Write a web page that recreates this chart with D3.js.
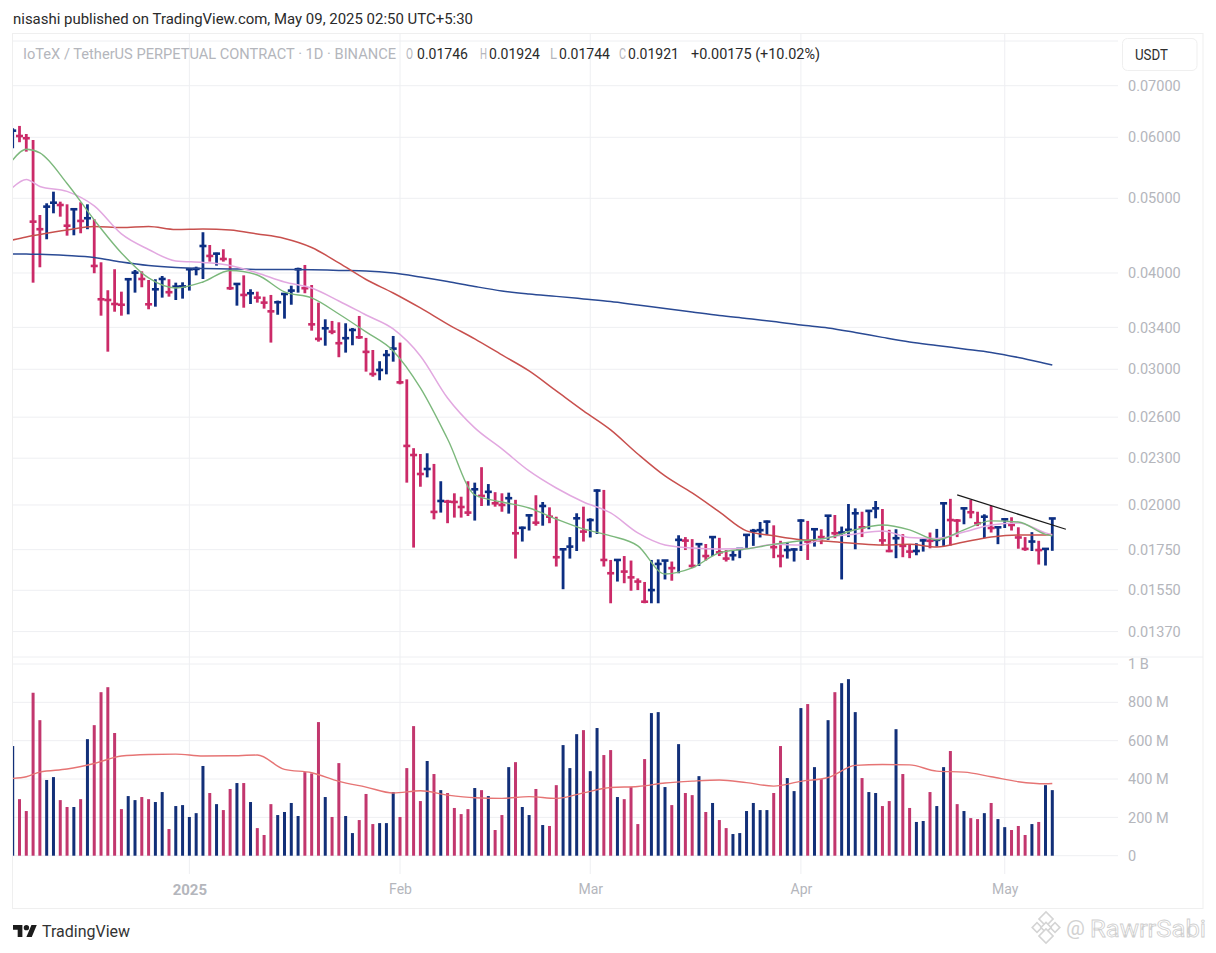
<!DOCTYPE html>
<html><head><meta charset="utf-8">
<script src="https://cdn.jsdelivr.net/npm/d3@7"></script>
<style>html,body{margin:0;padding:0;background:#fff}svg{display:block}text{font-family:Roboto,sans-serif}</style>
</head><body><div id="chart"></div>
<script>
const firstDay = "2024-12-06";
const highs = [.06164,.06207,.06059,.05952,.04757,.04926,.05100,.04950,.04911,.04848,.04941,.04911,.04697,.04130,.03799,.04045,.03783,.03937,.04036,.04020,.03917,.03926,.03964,.03926,.03886,.03890,.04057,.04076,.04518,.04349,.04250,.04294,.04180,.03879,.03972,.03810,.03783,.03727,.03746,.03683,.03765,.03851,.04064,.04097,.03859,.03661,.03483,.03466,.03452,.03442,.03394,.03518,.03295,.03178,.03073,.03178,.03314,.03249,.02911,.02370,.02329,.02334,.02261,.02147,.02031,.02071,.02050,.02147,.02138,.02239,.02129,.02078,.02071,.02075,.02031,.01875,.01943,.02059,.02018,.01986,.01931,.01758,.01817,.01951,.01990,.01922,.02096,.02092,.01697,.01700,.01717,.01694,.01606,.01589,.01697,.01700,.01697,.01689,.01827,.01817,.01806,.01784,.01780,.01820,.01813,.01748,.01743,.01757,.01833,.01862,.01901,.01909,.01882,.01797,.01787,.01757,.01916,.01907,.01864,.01860,.01941,.01941,.01875,.02006,.01980,.01960,.01966,.02024,.01976,.01857,.01860,.01833,.01775,.01784,.01806,.01842,.01862,.02014,.02037,.01918,.01984,.02031,.01960,.01945,.01994,.01875,.01922,.01928,.01871,.01817,.01844,.01797,.01757,.01924];
const lows = [.05807,.05912,.05748,.03886,.04069,.04424,.04781,.04733,.04472,.04477,.04504,.04559,.03997,.03521,.03162,.03563,.03521,.03535,.03772,.03833,.03589,.03617,.03716,.03727,.03690,.03705,.03795,.03972,.03929,.04138,.04089,.04138,.03803,.03628,.03606,.03646,.03661,.03596,.03249,.03531,.03490,.03638,.03772,.03765,.03367,.03258,.03219,.03331,.03110,.03153,.03223,.03285,.02979,.02934,.02903,.02955,.03069,.02868,.02138,.01761,.02112,.02172,.01916,.01955,.01894,.01926,.01926,.01935,.01909,.01994,.01996,.01990,.01960,.01949,.01704,.01793,.01853,.01880,.01880,.01894,.01664,.01555,.01704,.01743,.01793,.01815,.01834,.01664,.01491,.01591,.01583,.01548,.01551,.01491,.01491,.01491,.01601,.01595,.01631,.01748,.01656,.01667,.01694,.01717,.01717,.01689,.01694,.01706,.01757,.01770,.01815,.01829,.01706,.01660,.01704,.01689,.01743,.01697,.01766,.01779,.01802,.01811,.01601,.01817,.01752,.01817,.01860,.01922,.01771,.01737,.01706,.01711,.01706,.01721,.01740,.01757,.01766,.01770,.01771,.01817,.01888,.01922,.01878,.01811,.01842,.01779,.01867,.01853,.01755,.01744,.01743,.01674,.01669,.01744];
const closes = [.06120,.06023,.05983,.04663,.04559,.04877,.04935,.04901,.04607,.04839,.04673,.04711,.04085,.03698,.03690,.03646,.03638,.03926,.04004,.03929,.03643,.03810,.03929,.03777,.03840,.03843,.04045,.04049,.04336,.04209,.04238,.04171,.03822,.03871,.03746,.03765,.03716,.03661,.03567,.03665,.03757,.03795,.04045,.03822,.03431,.03285,.03391,.03357,.03243,.03292,.03374,.03301,.03160,.02958,.02994,.03131,.03191,.02885,.02386,.02322,.02194,.02227,.01959,.02024,.02020,.02018,.01988,.01955,.02096,.02055,.02080,.02010,.02000,.02041,.01838,.01868,.01939,.01897,.01994,.01931,.01711,.01752,.01766,.01922,.01847,.01912,.02088,.01697,.01631,.01697,.01639,.01611,.01591,.01498,.01551,.01677,.01694,.01656,.01802,.01798,.01667,.01779,.01717,.01817,.01736,.01704,.01721,.01754,.01829,.01851,.01855,.01903,.01763,.01717,.01748,.01751,.01909,.01793,.01860,.01817,.01937,.01838,.01842,.01857,.01951,.01871,.01965,.01980,.01799,.01743,.01811,.01770,.01740,.01743,.01799,.01797,.01802,.02010,.01912,.01909,.01980,.01957,.01894,.01931,.01867,.01871,.01916,.01884,.01815,.01754,.01793,.01748,.01754,.01921];
const volumesM = [572,295,233,850,707,395,410,290,254,254,295,608,681,853,879,640,243,311,290,306,295,280,332,139,259,264,202,222,468,327,269,238,348,379,379,280,144,108,269,212,228,275,207,436,429,697,306,202,483,207,118,186,322,165,170,170,332,202,457,676,285,494,426,342,327,249,217,243,353,342,311,134,212,462,488,254,212,348,160,155,368,577,457,634,655,441,666,525,551,306,295,358,165,504,744,749,358,264,582,327,316,415,228,275,186,144,113,118,233,275,238,238,327,572,405,337,770,791,462,400,707,853,900,921,749,405,332,327,259,285,660,426,249,176,181,332,259,462,546,269,233,196,191,222,275,191,149,134,155,108,165,176,368,342];

const sampleDays = [0,2,4,8,12,16,20,24,28,32,36,40,44,48,52,56,60,64,68,72,76,80,84,88,92,96,100,104,108,112,116,120,124,128,132,136,140,144,148,152,153];
const maFast = [.05607,.05789,.05726,.05226,.04687,.04247,.03941,.03825,.03894,.04030,.03976,.03780,.03713,.03539,.03354,.03169,.02837,.02436,.02061,.02018,.01982,.01918,.01862,.01824,.01770,.01627,.01657,.01733,.01754,.01778,.01797,.01813,.01857,.01884,.01857,.01802,.01857,.01907,.01901,.01832,.01824];
const maMid = [.05165,.05290,.05180,.05104,.04887,.04495,.04291,.04147,.04128,.04091,.04000,.03894,.03825,.03679,.03528,.03384,.03122,.02753,.02518,.02365,.02214,.02104,.02018,.01953,.01840,.01775,.01759,.01754,.01756,.01778,.01775,.01815,.01834,.01851,.01815,.01810,.01845,.01884,.01895,.01840,.01829];
const maSlow = [.04415,.04455,.04488,.04549,.04597,.04583,.04597,.04556,.04563,.04549,.04495,.04435,.04317,.04122,.03923,.03768,.03603,.03434,.03285,.03131,.02985,.02812,.02649,.02503,.02329,.02181,.02073,.01959,.01851,.01824,.01802,.01794,.01783,.01775,.01778,.01764,.01791,.01818,.01829,.01829,.01832];
const maLong = [.04234,.04232,.04230,.04215,.04190,.04134,.04091,.04067,.04055,.04049,.04043,.04043,.04040,.04031,.04025,.04000,.03953,.03900,.03842,.03791,.03757,.03730,.03702,.03674,.03635,.03598,.03560,.03523,.03492,.03460,.03424,.03394,.03349,.03300,.03255,.03221,.03188,.03155,.03108,.03053,.03039];
const volMA = [403,412,436,452,481,520,528,530,520,521,525,450,433,388,358,327,339,316,302,299,308,299,328,356,361,379,389,395,381,363,388,408,471,476,474,441,436,412,386,375,377];

const trendDays = [139,155];
const trendPrices = [.02061,.01860];

const priceTicks = [.08,.07,.06,.05,.04,.034,.03,.026,.023,.02,.0175,.0155,.0137];
const priceLabelTicks = [.07,.06,.05,.04,.034,.03,.026,.023,.02,.0175,.0155,.0137];
const volTicks = [0,200,400,600,800,1000];
const timeTicks = ["2025-01-01","2025-02-01","2025-03-01","2025-04-01","2025-05-01"];
const timeLabels = ["2025","Feb","Mar","Apr","May"];
const timeBold = [true,false,false,false,false];

const headline = "nisashi published on TradingView.com, May 09, 2025 02:50 UTC+5:30";
const symbol = "IoTeX / TetherUS PERPETUAL CONTRACT · 1D · BINANCE";
const ohlcKeys = ["O","H","L","C"];
const ohlcVals = ["0.01746","0.01924","0.01744","0.01921"];
const changeText = "+0.00175 (+10.02%)";

const W = 1216, H = 953;
const UP = "#0c2e82", DOWN = "#cb2a68", VUP = "#122f78", VDOWN = "#c2376e";
const GRID = "#eeeff2", AXTXT = "#b4b6bc";

const svg = d3.select("#chart").append("svg").attr("width",W).attr("height",H).attr("viewBox",[0,0,W,H]);
const parse = d3.utcParse("%Y-%m-%d");
const t0 = parse(firstDay);
const dayDate = i => d3.utcDay.offset(t0,i);
const x = d3.scaleUtc().domain([t0,dayDate(153)]).range([12.7,1052.3]);
const y = d3.scaleLog().domain([.08,.0137]).range([41,631.6]);
const v = d3.scaleLinear().domain([0,1000]).range([855.7,664]);
const L = 13, R = 1118, Rframe = 1203;

svg.append("defs").append("clipPath").attr("id","pane").append("rect").attr("x",L).attr("y",33).attr("width",R-L).attr("height",840);

// frame + grid
svg.append("rect").attr("x",L-.5).attr("y",33.5).attr("width",Rframe-L+.5).attr("height",875).attr("fill","none").attr("stroke","#efefef");
const grid = svg.append("g").attr("stroke",GRID).attr("fill","none");
grid.selectAll(".h").data(priceTicks).join("line").attr("x1",L).attr("x2",R).attr("y1",d=>y(d)).attr("y2",d=>y(d));
grid.selectAll(".vh").data(volTicks).join("line").attr("x1",L).attr("x2",R).attr("y1",d=>v(d)).attr("y2",d=>v(d));
grid.selectAll(".t").data(timeTicks).join("line").attr("x1",d=>x(parse(d))).attr("x2",d=>x(parse(d))).attr("y1",34).attr("y2",874);
grid.append("line").attr("x1",L).attr("x2",Rframe).attr("y1",657).attr("y2",657);

const pane = svg.append("g").attr("clip-path","url(#pane)");

// volume bars
const isUp = i => i===0 || closes[i] > closes[i-1];
pane.append("g").selectAll("rect").data(volumesM).join("rect")
  .attr("x",(d,i)=>x(dayDate(i))-1.5).attr("width",3)
  .attr("y",d=>v(d)).attr("height",d=>v(0)-v(d))
  .attr("fill",(d,i)=>isUp(i)?VUP:VDOWN);

// volume MA
const sx = i => x(dayDate(sampleDays[i]));
const volLine = d3.line().x((d,i)=>sx(i)).y(d=>v(d)).curve(d3.curveMonotoneX);
pane.append("path").attr("d",volLine(volMA)).attr("fill","none").attr("stroke","#e67474").attr("stroke-width",1.4);

// price bars (high-low stem with a close tick)
const bars = pane.append("g");
closes.forEach((c,i)=>{
  const col = isUp(i)?UP:DOWN, cx = x(dayDate(i));
  bars.append("line").attr("x1",cx).attr("x2",cx).attr("y1",y(highs[i])).attr("y2",y(lows[i])).attr("stroke",col).attr("stroke-width",2.8);
  bars.append("line").attr("x1",cx-3.5).attr("x2",cx+3.5).attr("y1",y(c)).attr("y2",y(c)).attr("stroke",col).attr("stroke-width",2.6);
});

// moving averages
const maLine = d3.line().x((d,i)=>sx(i)).y(d=>y(d)).curve(d3.curveMonotoneX);
[[maLong,"#2a4a94",1.5],[maSlow,"#c8504e",1.5],[maMid,"#e2a8e0",1.5],[maFast,"#7cb87c",1.4]].forEach(([s,c,w])=>{
  pane.append("path").attr("d",maLine(s)).attr("fill","none").attr("stroke",c).attr("stroke-width",w);
});

// drawn trend line
pane.append("line").attr("x1",x(dayDate(trendDays[0]))).attr("x2",x(dayDate(trendDays[1])))
  .attr("y1",y(trendPrices[0])).attr("y2",y(trendPrices[1])).attr("stroke","#1a1a1a").attr("stroke-width",1.2);

// axes
function styleAxis(g){ g.select(".domain").remove(); g.selectAll(".tick line").remove();
  g.selectAll("text").attr("fill",AXTXT).attr("font-family","Roboto, sans-serif").attr("font-size",14.5); }
svg.append("g").attr("transform",`translate(${R},0)`)
  .call(d3.axisRight(y).tickValues(priceLabelTicks).tickFormat(d3.format(".5f")).tickPadding(10).tickSize(0)).call(styleAxis);
svg.append("g").attr("transform",`translate(${R},0)`)
  .call(d3.axisRight(v).tickValues(volTicks).tickFormat(d=>d===0?"0":d>=1000?"1 B":d+" M").tickPadding(10).tickSize(0)).call(styleAxis);
const xa = svg.append("g").attr("transform","translate(0,884)")
  .call(d3.axisBottom(x).tickValues(timeTicks.map(parse)).tickFormat((d,i)=>timeLabels[i]).tickPadding(0).tickSize(0)).call(styleAxis);
xa.selectAll("text").attr("font-weight",(d,i)=>timeBold[i]?700:400).attr("font-size",(d,i)=>timeBold[i]?15:14);

// headline + legend
function fit(txt,xp,yp,w,fill,size,g){
  return (g||svg).append("text").attr("x",xp).attr("y",yp).attr("textLength",w).attr("lengthAdjust","spacingAndGlyphs")
   .attr("fill",fill).attr("font-size",size).text(txt);
}
fit(headline,13,24,460,"#2a2a2a",15);
fit(symbol,23,59,373,AXTXT,15);
const keyX = [406,480,550,619], valX = [417,489,559,628];
ohlcKeys.forEach((k,i)=>{
  fit(k,keyX[i],59,7,AXTXT,15);
  fit(ohlcVals[i],valX[i],59,51,"#2a2a2a",15);
});
fit(changeText,691,59,129,"#2a2a2a",15);

// currency box
svg.append("rect").attr("x",1122.5).attr("y",38.5).attr("width",74.5).attr("height",32).attr("rx",5).attr("fill","#fff").attr("stroke","#efefef");
fit("USDT",1135,60,33,"#2e2e2e",14.5);

// TradingView logo
const logo = svg.append("g").attr("transform","translate(13,922.3) scale(0.67)").attr("fill","#1c1c1c");
logo.append("path").attr("d","M14 22H7V11H0V4h14v18zM28 22h-8l7.5-18h8L28 22z");
logo.append("circle").attr("cx",20).attr("cy",8).attr("r",4);
svg.append("text").attr("x",42).attr("y",937).attr("font-family","Lato, sans-serif").attr("font-size",16).attr("fill","#333")
  .attr("textLength",88).attr("lengthAdjust","spacingAndGlyphs").text("TradingView");

// watermark
const wm = svg.append("g").attr("fill","#fff").attr("stroke","#d4d4d4").attr("stroke-width",1.6);
[[1046,919,5],[1037,927.5,3.4],[1055,927.5,3.4],[1046,927.5,3.6],[1046,936,5]].forEach(([a,b,s])=>{
  wm.append("rect").attr("x",a-s).attr("y",b-s).attr("width",2*s).attr("height",2*s).attr("transform",`rotate(45 ${a} ${b})`);
});
svg.append("text").attr("x",1066).attr("y",935).attr("font-size",21).attr("fill","#d2d2d2").text("@");
svg.append("text").attr("x",1090).attr("y",937).attr("font-size",23).attr("fill","#fff").attr("stroke","#cfcfcf").attr("stroke-width",.8)
  .attr("textLength",116).attr("lengthAdjust","spacingAndGlyphs").text("RawrrSabi");
</script></body></html>
